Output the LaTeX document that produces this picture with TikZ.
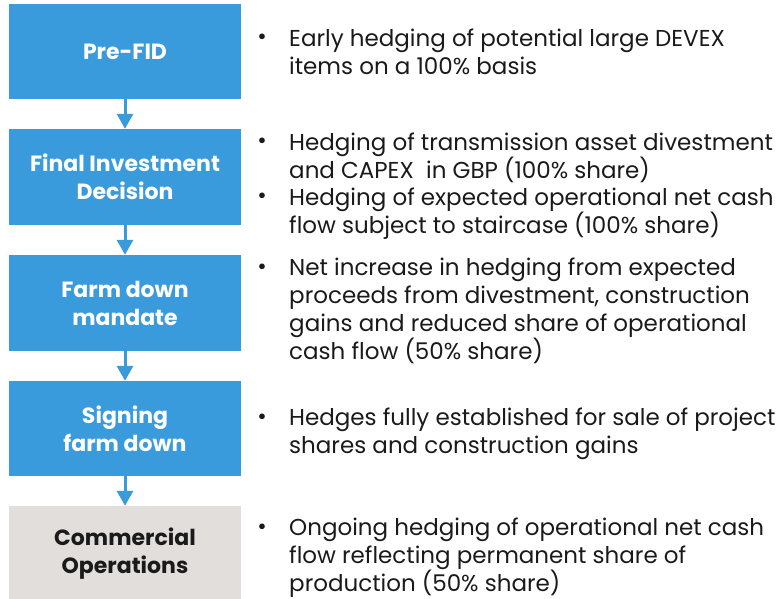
\documentclass[tikz,border=0pt]{standalone}
\usepackage{fontspec}
\setmainfont{Poppins}
\usetikzlibrary{arrows.meta}
\definecolor{boxblue}{HTML}{3A9BDC}
\definecolor{boxgray}{HTML}{E1DEDB}
\definecolor{txtblack}{HTML}{1A1A1A}
\begin{document}
\begin{tikzpicture}[x=1pt,y=-1pt,
  stagebox/.style={rectangle, minimum width=232pt, inner sep=0pt, fill=boxblue, text=white,
    align=center, font=\bfseries\fontsize{22}{28}\selectfont},
  lastbox/.style={stagebox, fill=boxgray, text=txtblack},
  flowarrow/.style={draw=boxblue, line width=3pt, -{Triangle[width=16pt,length=15pt]}},
  txt/.style={anchor=north west, inner sep=0pt, align=left, text=txtblack,
    font=\fontsize{23}{28}\selectfont},
  bul/.style={anchor=base, inner sep=0pt, text=txtblack, font=\fontsize{23}{28}\selectfont}
]
\useasboundingbox (0,0) rectangle (782,599);
\node[stagebox, minimum height=95pt] (b1) at (125,51.5) {Pre-FID};
\node[stagebox, minimum height=96pt] (b2) at (125,177) {Final Investment\\Decision};
\node[stagebox, minimum height=96pt] (b3) at (125,303) {Farm down\\mandate};
\node[stagebox, minimum height=95pt] (b4) at (125,428.5) {Signing\\farm down};
\node[lastbox, minimum height=95pt] (b5) at (125,553.5) {Commercial\\Operations};
\draw[flowarrow] (b1.south) -- (b2.north);
\draw[flowarrow] (b2.south) -- (b3.north);
\draw[flowarrow] (b3.south) -- (b4.north);
\draw[flowarrow] (b4.south) -- (b5.north);

\node[txt] (t1) at (289,29) {Early hedging of potential large DEVEX\\items on a 100\% basis};
\node[txt] (t2a) at (289,133) {Hedging of transmission asset divestment\\and CAPEX\ \ in GBP (100\% share)};
\node[txt] (t2b) at (289,188) {Hedging of expected operational net cash\\flow subject to staircase (100\% share)};
\node[txt] (t3) at (289,258) {Net increase in hedging from expected\\proceeds from divestment, construction\\gains and reduced share of operational\\cash flow (50\% share)};
\node[txt] (t4) at (289,408) {Hedges fully established for sale of project\\shares and construction gains};
\node[txt] (t5) at (289,518) {Ongoing hedging of operational net cash\\flow reflecting permanent share of\\production (50\% share)};

\node[bul] (u1) at (262,45) {•};
\node[bul] (u2a) at (262,149) {•};
\node[bul] (u2b) at (262,204) {•};
\node[bul] (u3) at (262,274) {•};
\node[bul] (u4) at (262,424) {•};
\node[bul] (u5) at (262,534) {•};
\end{tikzpicture}
\end{document}
